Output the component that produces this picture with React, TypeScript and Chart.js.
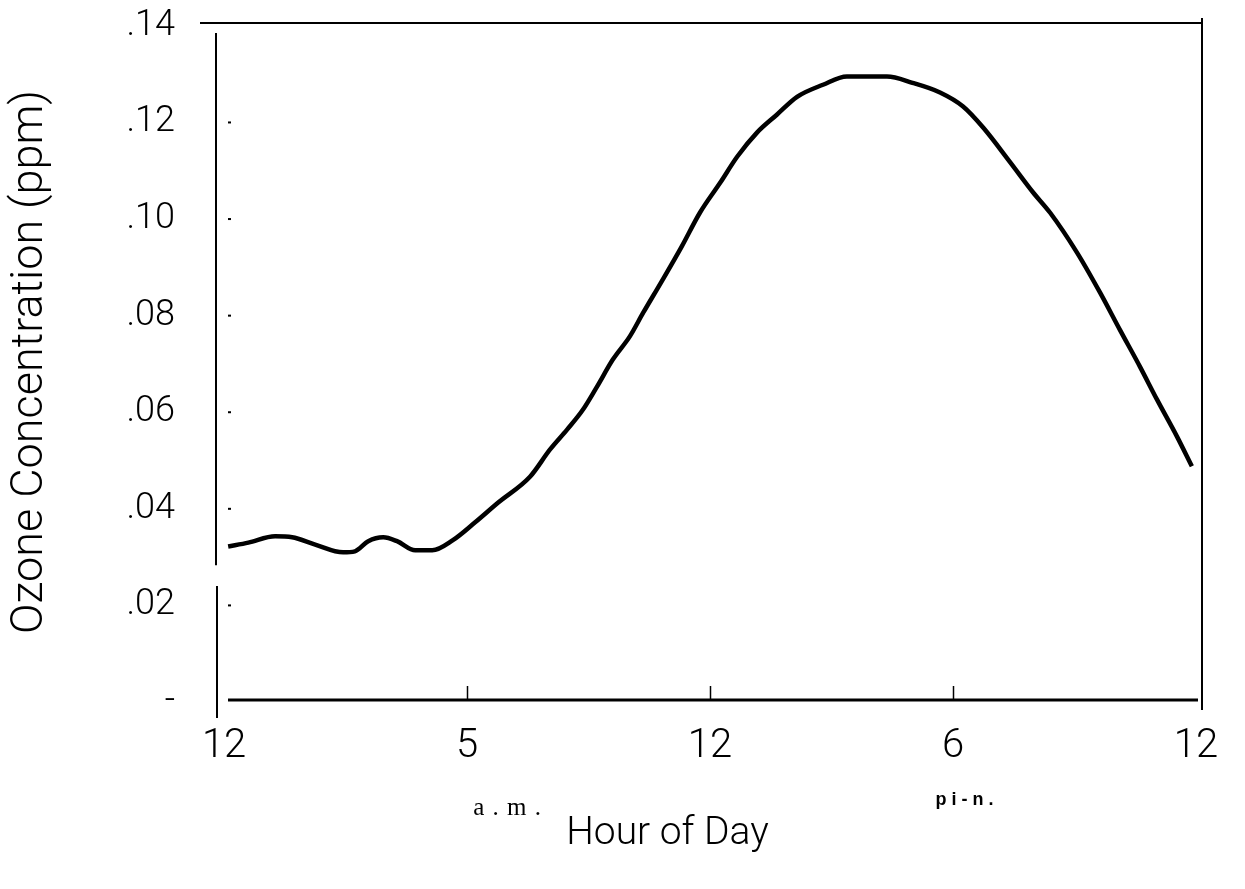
import React, { useEffect, useRef } from 'react';
import { Chart, registerables } from 'chart.js';

Chart.register(...registerables);

// Hour of day (0 = midnight) and ozone concentration (ppm)
const hours = [
  0.1, 0.6, 1.26, 1.68, 2.25, 2.94, 3.23, 3.56, 3.93, 4.27, 4.72, 5.14, 5.65,
  6.2, 6.77, 7.56, 8.05, 8.47, 8.86, 9.21, 9.6, 10.02, 10.35, 10.8, 11.3,
  11.75, 12.25, 12.67, 13.16, 13.65, 14.15, 14.79, 15.38, 16.37, 17.0, 17.68,
  18.25, 18.75, 19.4, 19.98, 20.4, 21.06, 21.63, 22.12, 22.62, 23.04, 23.53, 23.9,
];
const ozone = [
  0.0322, 0.033, 0.0343, 0.0341, 0.0326, 0.031, 0.0312, 0.0333, 0.0341, 0.0333,
  0.0314, 0.0314, 0.0335, 0.0372, 0.0413, 0.0467, 0.0523, 0.0564, 0.0605, 0.0653,
  0.0709, 0.0757, 0.0806, 0.087, 0.0943, 0.1013, 0.1075, 0.1129, 0.1179, 0.1216,
  0.1253, 0.1278, 0.1295, 0.1295, 0.1282, 0.1262, 0.1233, 0.1189, 0.1119, 0.1055,
  0.1013, 0.0931, 0.0848, 0.0771, 0.0694, 0.0626, 0.055, 0.0488,
];

const xTickValues = [0, 6, 12, 18, 24];
const xTickLabels = ['12', '5', '12', '6', '12'];
const yTickValues = [0, 0.02, 0.04, 0.06, 0.08, 0.1, 0.12, 0.14];
const yTickLabels = ['-', '.02', '.04', '.06', '.08', '.10', '.12', '.14'];
const periodLabels = ['a . m .', 'pi-n.'];
const periodHours = [7.0, 18.3];
const xTitle = 'Hour of Day';
const xTitleHour = 10.95;
const yTitle = 'Ozone Concentration (ppm)';
const axisBreak = [0.024, 0.0283];

const W = 1245;
const H = 889;
const FONT = 'Roboto, "Liberation Sans", sans-serif';

function seg(ctx: CanvasRenderingContext2D, x1: number, y1: number, x2: number, y2: number, w: number) {
  ctx.lineWidth = w;
  ctx.beginPath();
  ctx.moveTo(x1, y1);
  ctx.lineTo(x2, y2);
  ctx.stroke();
}

const framePlugin = {
  id: 'frame',
  afterDraw(chart: any) {
    const { ctx, chartArea: a, scales } = chart;
    const xs = scales.x;
    const ys = scales.y;
    const zeroY = ys.getPixelForValue(0);
    ctx.save();
    ctx.strokeStyle = '#000';
    ctx.fillStyle = '#000';
    // top rule
    seg(ctx, a.left - 16, a.top + 1, a.right, a.top + 1, 2);
    // right rule
    seg(ctx, a.right, a.top - 4, a.right, a.bottom + 8, 2);
    // x axis rule
    seg(ctx, a.left + 12, zeroY - 2, a.right - 4, zeroY - 2, 3);
    // broken y axis rule
    seg(ctx, a.left, a.top + 11, a.left, ys.getPixelForValue(axisBreak[1]), 2);
    seg(ctx, a.left + 1, ys.getPixelForValue(axisBreak[0]), a.left + 1, a.bottom + 16, 2);
    // y tick dots
    yTickValues.slice(1, -1).forEach((v) => {
      const py = ys.getPixelForValue(v);
      ctx.fillRect(a.left + 12, py - 1, 3, 2);
    });
    // x tick marks
    xTickValues.slice(1, -1).forEach((v) => {
      const px = Math.round(xs.getPixelForValue(v)) + 0.5;
      seg(ctx, px, zeroY - 16, px, zeroY - 3, 1.5);
    });
    ctx.textAlign = 'center';
    ctx.textBaseline = 'middle';
    // a.m. / p.m. labels
    ctx.font = '25px "Liberation Serif", serif';
    (ctx as any).letterSpacing = '1px';
    ctx.fillText(periodLabels[0], xs.getPixelForValue(periodHours[0]), a.bottom + 106);
    ctx.font = 'bold 18px "Liberation Sans", sans-serif';
    (ctx as any).letterSpacing = '5px';
    ctx.fillText(periodLabels[1], xs.getPixelForValue(periodHours[1]) + 2, a.bottom + 98);
    // x axis title
    (ctx as any).letterSpacing = '0px';
    ctx.font = '300 39px ' + FONT;
    ctx.fillText(xTitle, xs.getPixelForValue(xTitleHour), a.bottom + 132);
    ctx.restore();
  },
};

export default function App() {
  const ref = useRef<HTMLCanvasElement | null>(null);
  useEffect(() => {
    const canvas = ref.current;
    if (!canvas) return;
    const chart = new Chart(canvas, {
      type: 'line',
      data: {
        datasets: [
          {
            data: hours.map((h, i) => ({ x: h, y: ozone[i] })),
            borderColor: '#000',
            borderWidth: 4.5,
            pointRadius: 0,
            tension: 0.4,
            cubicInterpolationMode: 'monotone',
            fill: false,
          },
        ],
      },
      options: {
        responsive: false,
        animation: false,
        devicePixelRatio: 1,
        layout: { padding: { left: 0, top: 22, right: 43, bottom: 0 } },
        plugins: { legend: { display: false }, tooltip: { enabled: false } },
        scales: {
          x: {
            type: 'linear',
            min: -0.2,
            max: 24.15,
            grid: { display: false, drawTicks: false },
            border: { display: false },
            afterBuildTicks: (s: any) => {
              s.ticks = xTickValues.map((v) => ({ value: v }));
            },
            afterFit: (s: any) => {
              s.height = 187;
              s.paddingLeft = 0;
              s.paddingRight = 0;
            },
            ticks: {
              padding: 21,
              autoSkip: false,
              maxRotation: 0,
              color: '#000',
              font: { family: FONT, size: 40, weight: '300' },
              callback: (v: any) => xTickLabels[xTickValues.indexOf(Number(v))],
            },
          },
          y: {
            type: 'linear',
            min: 0,
            max: 0.1408,
            grid: { display: false, drawTicks: false },
            border: { display: false },
            afterBuildTicks: (s: any) => {
              s.ticks = yTickValues.map((v) => ({ value: v }));
            },
            afterFit: (s: any) => {
              s.width = 216;
              s.paddingTop = 0;
              s.paddingBottom = 0;
            },
            ticks: {
              padding: 41,
              color: '#000',
              font: { family: FONT, size: 36, weight: '300' },
              callback: (v: any) => {
                const i = yTickValues.findIndex((t) => Math.abs(t - Number(v)) < 1e-9);
                return yTickLabels[i];
              },
            },
            title: {
              display: true,
              text: yTitle,
              color: '#000',
              font: { family: FONT, size: 45, weight: '300' },
              padding: { top: 4, bottom: 0 },
            },
          },
        },
      },
      plugins: [framePlugin],
    } as any);
    return () => chart.destroy();
  }, []);
  return (
    <div style={{ position: 'fixed', left: 0, top: 0, width: W, height: H, background: '#fff' }}>
      <canvas ref={ref} width={W} height={H} style={{ display: 'block' }} />
    </div>
  );
}
